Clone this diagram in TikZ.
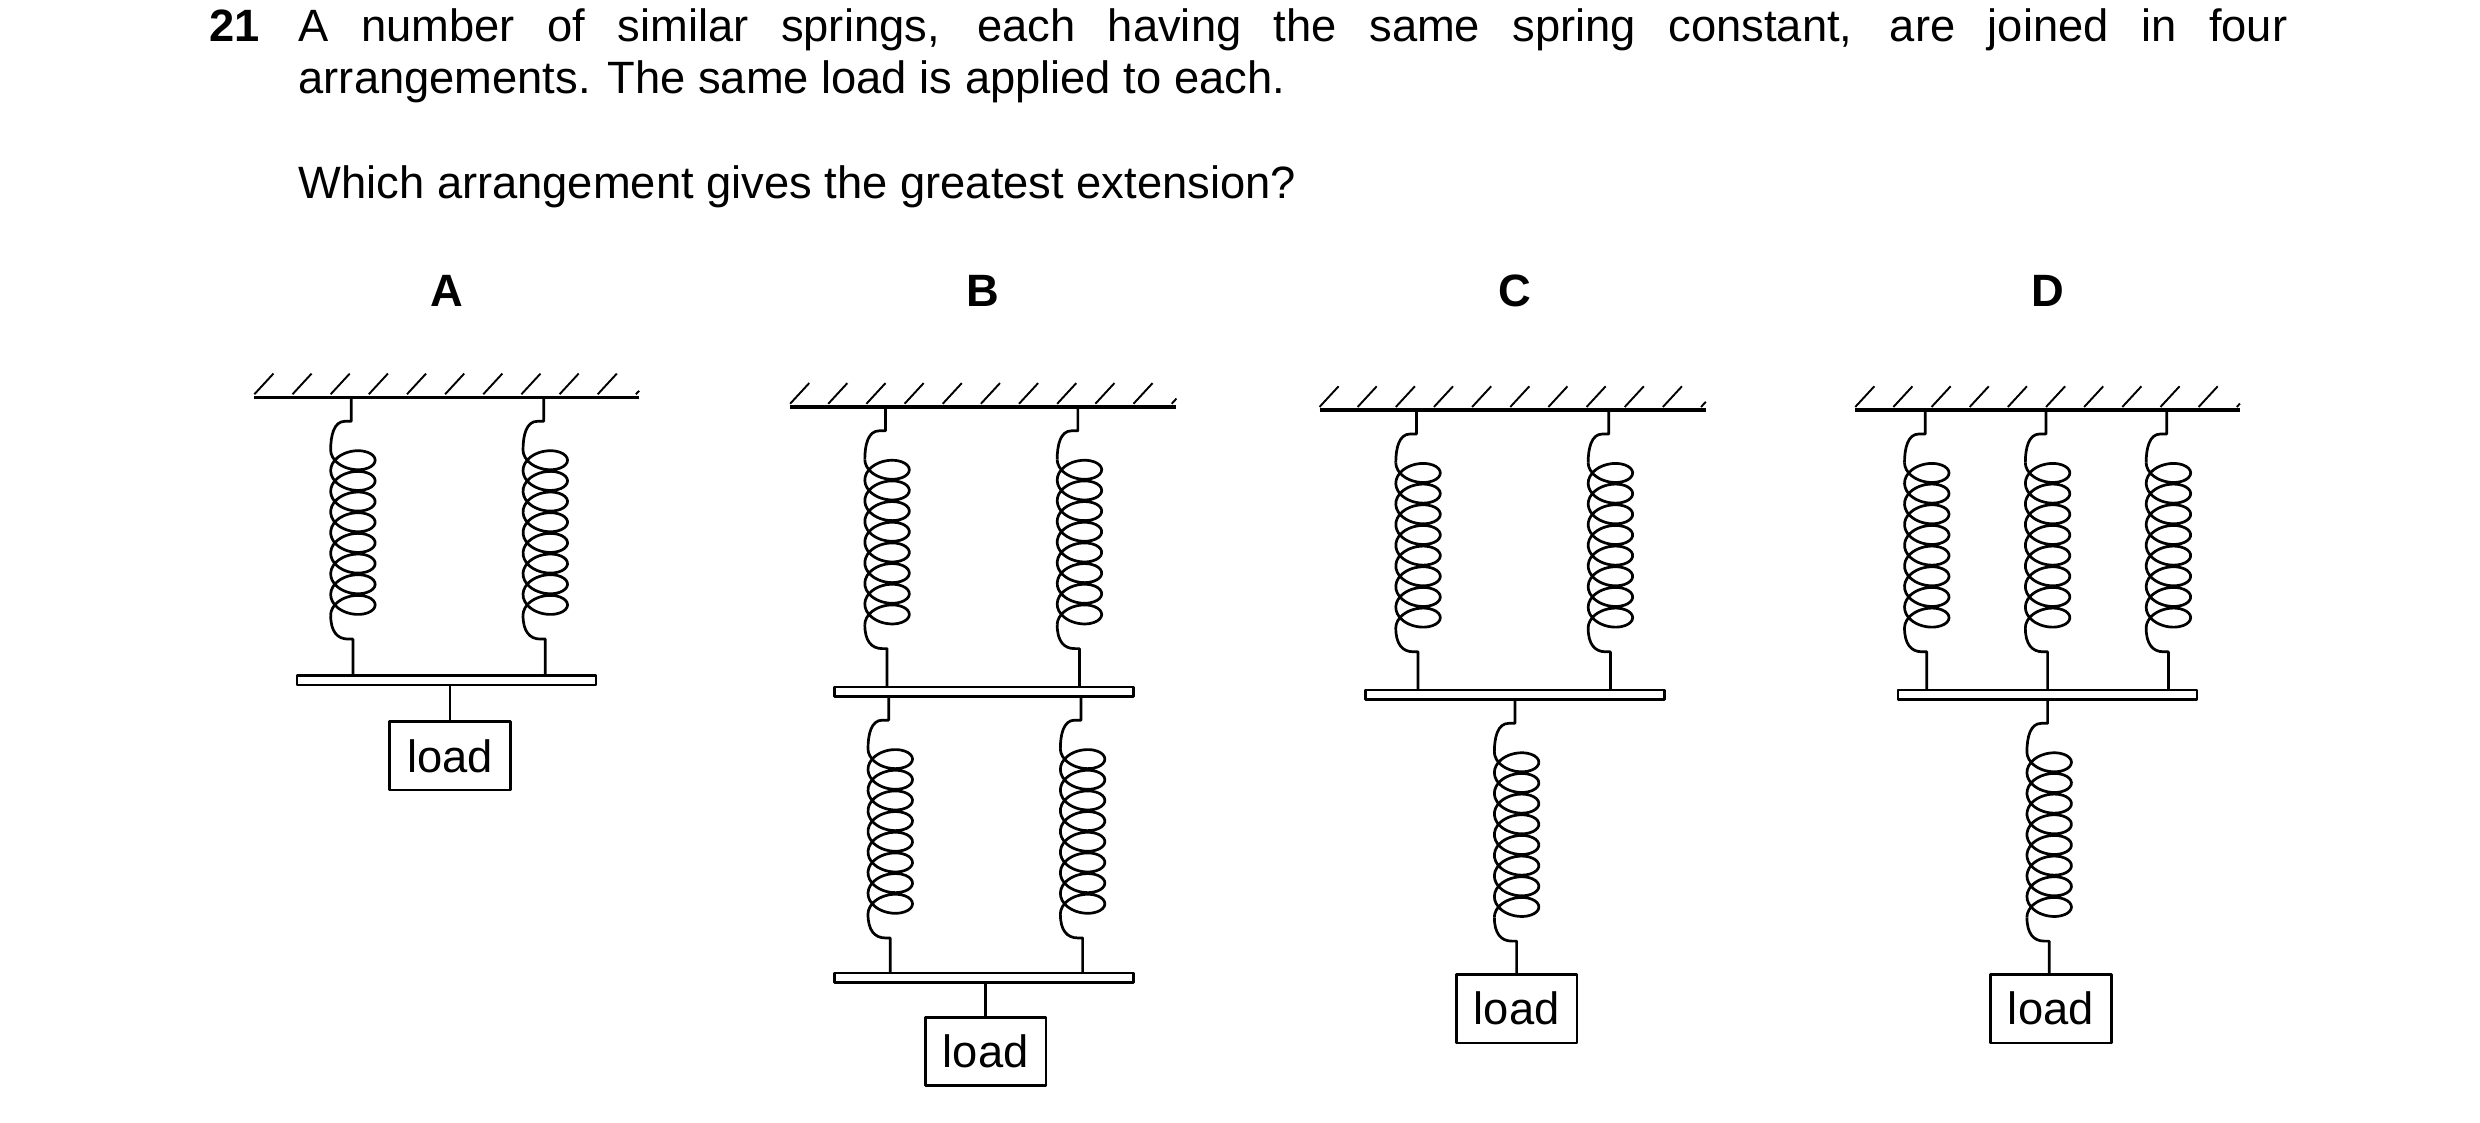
\documentclass[tikz,border=0pt]{standalone}
\usepackage{fontspec}
\setmainfont{Liberation Sans}
\begin{document}
\begin{tikzpicture}[x=1pt,y=-1pt,line width=1.7pt,line join=round,
  txt/.style={inner sep=0,font=\fontsize{28.5}{33}\selectfont},
  lbl/.style={inner sep=0,font=\fontsize{28.5}{33}\selectfont\bfseries},
  bar/.style={draw,line width=1.5pt,minimum width=188pt,minimum height=6pt,inner sep=0,outer sep=0},
  load/.style={draw,line width=1.7pt,minimum width=76pt,minimum height=43pt,inner sep=0,font=\fontsize{28.5}{33}\selectfont},
  spring/.pic={
    \draw (0,0) -- (0,15) -- (-4,15) .. controls (-11,15) and (-13,24) .. (-13,33);
    \draw plot[domain=0:2880,samples=240,smooth] ({1-14*cos(\x)},{33+\x/360*13+9*sin(\x)});
    \draw (-13,137) .. controls (-13,147) and (-9,152) .. (-2,152) -- (1,152) -- (1,\springlen);
  }]
\useasboundingbox (0,0) rectangle (1560,706);
\newcommand{\ceil}[3]{% x1 x2 y
  \draw[line width=2.2pt] (#1,#3) -- (#2,#3);
  \foreach \h in {0,...,10} {\pgfmathsetmacro\hx{#1+\h*24}
    \ifdim\hx pt<#2pt \draw[line width=1.2pt] (\hx,#3-2) -- ({min(\hx+12,#2)},{#3-2-13*(min(12,#2-\hx)/12)});\fi}}
\newcommand{\springlen}{175}
% text
\node[lbl,anchor=base west] (num) at (131,26) {21};
\node[txt,anchor=base west] (l1) at (187,26) {\makebox[1251pt][s]{A number of similar springs, each having the same spring constant, are joined in four}};
\node[txt,anchor=base west] (l2) at (187,59) {arrangements. The same load is applied to each.};
\node[txt,anchor=base west] (l3) at (187,125) {Which arrangement gives the greatest extension?};
\node[lbl,anchor=base] (la) at (281,193) {A};
\node[lbl,anchor=base] (lb) at (618,193) {B};
\node[lbl,anchor=base] (lc) at (953,193) {C};
\node[lbl,anchor=base] (ld) at (1288,193) {D};
% A
\ceil{160}{402}{250}
\renewcommand{\springlen}{175}
\pic at (221,250) {spring};
\pic at (342,250) {spring};
\node[bar] (barA) at (281,428) {};
\node[load] (loadA) at (283,475.5) {load};
\draw (barA.south -| loadA.north) -- (loadA.north);
% B
\ceil{497}{740}{256}
\renewcommand{\springlen}{176}
\pic at (557,256) {spring};
\pic at (678,256) {spring};
\node[bar] (barB1) at (619,435) {};
\renewcommand{\springlen}{174}
\pic at (559,438) {spring};
\pic at (680,438) {spring};
\node[bar] (barB2) at (619,615) {};
\node[load] (loadB) at (620,661.5) {load};
\draw (barB2.south -| loadB.north) -- (loadB.north);
% C
\ceil{830}{1073}{258}
\renewcommand{\springlen}{176}
\pic at (891,258) {spring};
\pic at (1012,258) {spring};
\node[bar] (barC) at (953,437) {};
\renewcommand{\springlen}{173}
\pic at (953,440) {spring};
\node[load] (loadC) at (954,634.5) {load};
% D
\ceil{1167}{1409}{258}
\renewcommand{\springlen}{176}
\pic at (1211,258) {spring};
\pic at (1287,258) {spring};
\pic at (1363,258) {spring};
\node[bar] (barD) at (1288,437) {};
\renewcommand{\springlen}{173}
\pic at (1288,440) {spring};
\node[load] (loadD) at (1290,634.5) {load};
\end{tikzpicture}
\end{document}
